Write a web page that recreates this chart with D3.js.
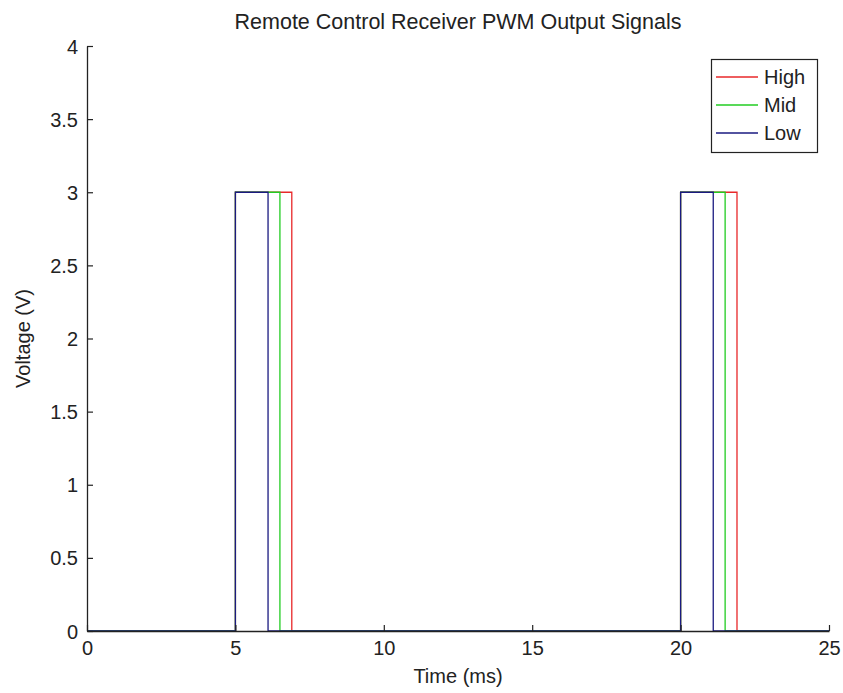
<!DOCTYPE html>
<html><head><meta charset="utf-8">
<script src="https://cdn.jsdelivr.net/npm/d3@7"></script>
<style>body{margin:0;background:#fff}svg{display:block}text{font-family:"Liberation Sans",Arial,sans-serif;fill:#222}</style>
</head><body><svg id="c" width="843" height="693"></svg>
<script>
const xTicks=[0,5,10,15,20,25];
const yTicks=[0,0.5,1,1.5,2,2.5,3,3.5,4];
const seriesNames=["High","Mid","Low"];
const seriesColors=["#e8282a","#22cc22","#1a1a80"];
// time points (ms) and voltages per series
const highT=[0,5,5,6.9,6.9,20,20,21.9,21.9,25];
const highV=[0,0,3,3,0,0,3,3,0,0];
const midT=[0,5,5,6.5,6.5,20,20,21.5,21.5,25];
const midV=[0,0,3,3,0,0,3,3,0,0];
const lowT=[0,5,5,6.1,6.1,20,20,21.1,21.1,25];
const lowV=[0,0,3,3,0,0,3,3,0,0];
const series=[[highT,highV],[midT,midV],[lowT,lowV]];

const FONT='"Liberation Sans",Arial,sans-serif';
const svg=d3.select("#c");
const L=87,R=829,T=46,B=631;
const x=d3.scaleLinear().domain([0,25]).range([L,R]);
const y=d3.scaleLinear().domain([0,4]).range([B,T]);

const line=d3.line().x(d=>x(d[0])).y(d=>y(d[1]));
series.forEach((s,i)=>{
  const pts=s[0].map((t,j)=>[t,s[1][j]]);
  svg.append("path").attr("d",line(pts)).attr("fill","none").attr("stroke",seriesColors[i]).attr("stroke-width",1.3);
});

const xa=svg.append("g").attr("transform",`translate(0,${B})`)
 .call(d3.axisBottom(x).tickValues(xTicks).tickSizeInner(-6).tickSizeOuter(0).tickPadding(10));
const ya=svg.append("g").attr("transform",`translate(${L},0)`)
 .call(d3.axisLeft(y).tickValues(yTicks).tickSizeInner(-6).tickSizeOuter(0).tickPadding(9).tickFormat(d3.format("")));
[xa,ya].forEach(a=>{a.selectAll("path").attr("stroke","#222").attr("stroke-width",1.3);
 a.selectAll("line").attr("stroke","#222").attr("stroke-width",1.2);
 a.selectAll("text").style("font-size","20px").style("fill","#222").style("font-family",FONT);});
xa.selectAll("text").attr("dy","0.71em");
ya.selectAll("text").attr("dy","0.35em");

svg.append("text").attr("x",(L+R)/2).attr("y",29).attr("text-anchor","middle").style("font-size","21.5px").text("Remote Control Receiver PWM Output Signals");
svg.append("text").attr("x",(L+R)/2).attr("y",683).attr("text-anchor","middle").style("font-size","20px").text("Time (ms)");
svg.append("text").attr("transform",`translate(30,${(T+B)/2}) rotate(-90)`).attr("text-anchor","middle").style("font-size","20px").text("Voltage (V)");

const lg=svg.append("g");
lg.append("rect").attr("x",711.5).attr("y",59.5).attr("width",106).attr("height",93).attr("fill","#fff").attr("stroke","#222").attr("stroke-width",1.2);
seriesNames.forEach((n,i)=>{
  const yy=77+i*28;
  lg.append("line").attr("x1",716).attr("x2",758).attr("y1",yy).attr("y2",yy).attr("stroke",seriesColors[i]).attr("stroke-width",1.5);
  lg.append("text").attr("x",764).attr("y",yy).attr("dy","0.35em").style("font-size","20px").text(n);
});
</script></body></html>
